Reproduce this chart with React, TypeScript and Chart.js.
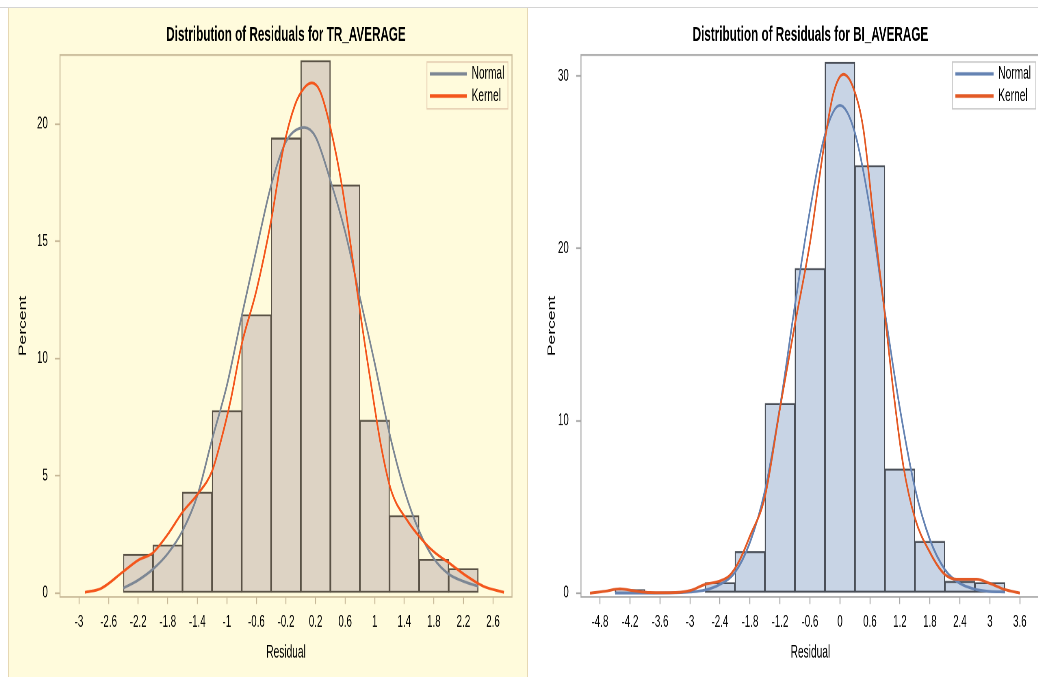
import React, { useEffect, useRef } from "react";
import { Chart, registerables } from "chart.js";

Chart.register(...registerables);

// ---------------- TR_AVERAGE ----------------
const trTitle = "Distribution of Residuals for TR_AVERAGE";
const trBinMids = [-2.2, -1.8, -1.4, -1.0, -0.6, -0.2, 0.2, 0.6, 1.0, 1.4, 1.8, 2.2];
const trPercent = [1.65, 2.05, 4.3, 7.78, 11.87, 19.4, 22.7, 17.4, 7.37, 3.3, 1.44, 1.04];
const trNormalX = [-2.4, -2.2, -2.0, -1.8, -1.6, -1.4, -1.2, -1.0, -0.8, -0.6, -0.4, -0.2, 0.05, 0.2, 0.4, 0.6, 0.8, 1.0, 1.2, 1.4, 1.6, 1.8, 2.0, 2.2, 2.4];
const trNormalY = [0.21, 0.55, 1.02, 1.68, 2.65, 4.15, 6.55, 8.85, 11.8, 14.65, 17.4, 19.25, 19.85, 19.45, 17.6, 15.4, 12.6, 9.8, 6.8, 4.4, 2.65, 1.47, 0.81, 0.5, 0.29];
const trKernelX = [-2.92, -2.7, -2.4, -2.2, -2.0, -1.8, -1.6, -1.4, -1.2, -1.08, -0.95, -0.8, -0.6, -0.4, -0.24, -0.08, 0.05, 0.15, 0.26, 0.4, 0.56, 0.69, 0.82, 0.96, 1.09, 1.22, 1.44, 1.62, 1.8, 2.02, 2.24, 2.47, 2.75];
const trKernelY = [0.03, 0.2, 0.92, 1.4, 1.72, 2.5, 3.45, 4.2, 5.2, 6.5, 8.2, 10.6, 12.9, 15.9, 18.9, 20.8, 21.55, 21.75, 21.4, 19.85, 17.3, 14.5, 11.6, 8.7, 6.2, 4.4, 3.1, 2.35, 1.76, 1.25, 0.73, 0.29, 0.03];
const trXTicks = [-3, -2.6, -2.2, -1.8, -1.4, -1, -0.6, -0.2, 0.2, 0.6, 1, 1.4, 1.8, 2.2, 2.6];
const trYTicks = [0, 5, 10, 15, 20];

// ---------------- BI_AVERAGE ----------------
const biTitle = "Distribution of Residuals for BI_AVERAGE";
const biBinMids = [-4.2, -3.6, -3.0, -2.4, -1.8, -1.2, -0.6, 0, 0.6, 1.2, 1.8, 2.4, 3.0];
const biPercent = [0.2, 0, 0, 0.6, 2.4, 11.0, 18.83, 30.8, 24.8, 7.2, 3.0, 0.68, 0.6];
const biNormalX = [-4.5, -3.9, -3.3, -3.0, -2.7, -2.4, -2.1, -1.8, -1.5, -1.2, -0.9, -0.6, -0.3, 0, 0.3, 0.6, 0.9, 1.2, 1.5, 1.8, 2.1, 2.4, 2.7, 3.0, 3.3];
const biNormalY = [0.0, 0.0, 0.02, 0.06, 0.17, 0.5, 1.2, 2.94, 5.94, 10.8, 16.7, 22.2, 26.6, 28.3, 26.7, 22.3, 16.3, 10.7, 6.1, 3.1, 1.36, 0.56, 0.22, 0.09, 0.06];
const biKernelX = [-5.0, -4.7, -4.4, -4.1, -3.8, -3.4, -3.0, -2.7, -2.4, -2.2, -2.0, -1.8, -1.5, -1.2, -0.9, -0.6, -0.45, -0.3, -0.13, 0.07, 0.27, 0.47, 0.7, 0.87, 1.07, 1.27, 1.5, 1.8, 2.07, 2.33, 2.73, 3.0, 3.3, 3.6];
const biKernelY = [0.0, 0.1, 0.24, 0.12, 0.03, 0.02, 0.14, 0.5, 0.7, 1.04, 1.94, 3.3, 5.6, 10.7, 15.6, 20.3, 23.3, 26.3, 29.0, 30.1, 29.3, 26.9, 21.0, 16.9, 11.7, 7.35, 4.35, 2.36, 1.16, 0.8, 0.8, 0.56, 0.2, 0.0];
const biXTicks = [-4.8, -4.2, -3.6, -3, -2.4, -1.8, -1.2, -0.6, 0, 0.6, 1.2, 1.8, 2.4, 3, 3.6];
const biYTicks = [0, 10, 20, 30];

const FONT = '"Liberation Sans", Arial, Helvetica, sans-serif';

type Spec = {
  title: string;
  bins: number[];
  pct: number[];
  nx: number[];
  ny: number[];
  kx: number[];
  ky: number[];
  xTicks: number[];
  yTicks: number[];
  xMin: number;
  xMax: number;
  yMin: number;
  yMax: number;
  width: number;
  height: number;
  yAxisW: number;
  xAxisH: number;
  padRight: number;
  percentPad: number;
  bg: string;
  barFill: string;
  barEdge: string;
  normal: string;
  kernel: string;
  frame: string;
  legendBorder: string;
  legendW: number;
  legendLineW: number;
};

const pts = (xs: number[], ys: number[]) => xs.map((x, i) => ({ x, y: ys[i] }));

function makeChart(canvas: HTMLCanvasElement, s: Spec) {
  const framePlugin = {
    id: "frame",
    afterDatasetsDraw(chart: any) {
      const { ctx, chartArea } = chart;
      ctx.save();
      ctx.strokeStyle = s.frame;
      ctx.lineWidth = 1.2;
      ctx.strokeRect(chartArea.left, chartArea.top, chartArea.right - chartArea.left, chartArea.bottom - chartArea.top);
      ctx.restore();
    },
  };
  const legendPlugin = {
    id: "boxLegend",
    afterDatasetsDraw(chart: any) {
      const { ctx, chartArea } = chart;
      const w = s.legendW;
      const h = 33.5;
      const x = chartArea.right - 5 - w;
      const y = chartArea.top + 5;
      ctx.save();
      ctx.fillStyle = s.bg;
      ctx.fillRect(x, y, w, h);
      ctx.strokeStyle = s.legendBorder;
      ctx.lineWidth = 1;
      ctx.strokeRect(x, y, w, h);
      const items = chart.data.datasets.filter((d: any) => d.type === "line");
      items.forEach((d: any, i: number) => {
        const cy = y + 8.5 + i * 15.8;
        ctx.strokeStyle = d.borderColor;
        ctx.lineWidth = 2.4;
        ctx.beginPath();
        ctx.moveTo(x + 3.7, cy);
        ctx.lineTo(x + 3.7 + s.legendLineW, cy);
        ctx.stroke();
        ctx.fillStyle = "#000";
        ctx.font = `12.5px ${FONT}`;
        ctx.textBaseline = "middle";
        ctx.textAlign = "left";
        ctx.fillText(d.label, x + 9.5 + s.legendLineW, cy);
      });
      ctx.restore();
    },
  };

  const tickFont = { family: FONT, size: 12 };
  const labelFont = { family: FONT, size: 12.5 };

  return new Chart(canvas, {
    type: "bar",
    data: {
      datasets: [
        {
          type: "line",
          label: "Normal",
          data: pts(s.nx, s.ny),
          borderColor: s.normal,
          borderWidth: 2,
          pointRadius: 0,
          cubicInterpolationMode: "monotone",
          fill: false,
          order: 2,
        } as any,
        {
          type: "line",
          label: "Kernel",
          data: pts(s.kx, s.ky),
          borderColor: s.kernel,
          borderWidth: 2,
          pointRadius: 0,
          cubicInterpolationMode: "monotone",
          fill: false,
          order: 1,
        } as any,
        {
          type: "bar",
          label: "Percent",
          data: pts(s.bins, s.pct),
          backgroundColor: s.barFill,
          borderColor: s.barEdge,
          borderWidth: 1.4,
          borderSkipped: false,
          barPercentage: 1,
          categoryPercentage: 1,
          order: 3,
        } as any,
      ],
    },
    options: {
      responsive: false,
      animation: false,
      devicePixelRatio: 2,
      layout: { padding: { left: 0, top: 0, right: s.padRight, bottom: 0 } },
      plugins: {
        legend: { display: false },
        tooltip: { enabled: false },
        title: {
          display: true,
          text: s.title,
          fullSize: false,
          color: "#000",
          font: { family: FONT, size: 14.4, weight: "bold" },
          padding: { top: 10.7, bottom: 5.6 },
        },
      },
      scales: {
        x: {
          type: "linear",
          min: s.xMin,
          max: s.xMax,
          offset: false,
          afterBuildTicks: (sc: any) => {
            sc.ticks = s.xTicks.map((v) => ({ value: v }));
          },
          afterFit: (sc: any) => {
            sc.height = s.xAxisH;
          },
          ticks: {
            autoSkip: false,
            maxRotation: 0,
            color: "#000",
            font: tickFont,
            padding: 6,
            callback: (v: any) => String(v),
          },
          grid: {
            display: true,
            offset: false,
            drawOnChartArea: false,
            drawTicks: true,
            tickLength: 5,
            tickColor: s.frame,
            tickWidth: 1.2,
          },
          border: { display: false },
          title: {
            display: true,
            text: "Residual",
            color: "#000",
            font: labelFont,
            padding: { top: 0, bottom: 11.8 },
          },
        },
        y: {
          type: "linear",
          min: s.yMin,
          max: s.yMax,
          afterBuildTicks: (sc: any) => {
            sc.ticks = s.yTicks.map((v) => ({ value: v }));
          },
          afterFit: (sc: any) => {
            sc.width = s.yAxisW;
          },
          ticks: {
            color: "#000",
            font: tickFont,
            padding: 9,
            callback: (v: any) => String(v),
          },
          grid: {
            display: true,
            drawOnChartArea: false,
            drawTicks: true,
            tickLength: 6,
            tickColor: s.frame,
            tickWidth: 1.2,
          },
          border: { display: false },
          title: {
            display: true,
            text: "Percent",
            color: "#000",
            font: labelFont,
            padding: { top: s.percentPad, bottom: 0 },
          },
        },
      },
    },
    plugins: [framePlugin, legendPlugin],
  } as any);
}

const SX = 0.8125;
const SY = 1.4;

const trSpec: Spec = {
  title: trTitle,
  bins: trBinMids,
  pct: trPercent,
  nx: trNormalX,
  ny: trNormalY,
  kx: trKernelX,
  ky: trKernelY,
  xTicks: trXTicks,
  yTicks: trYTicks,
  xMin: -3.257,
  xMax: 2.857,
  yMin: -0.167,
  yMax: 22.94,
  width: 640,
  height: 480,
  yAxisW: 64,
  xAxisH: 59.3,
  padRight: 19.7,
  percentPad: 11,
  bg: "#FFFBDC",
  barFill: "#DDD3C4",
  barEdge: "#5A5246",
  normal: "#7D8794",
  kernel: "#F4561C",
  frame: "#C7B897",
  legendBorder: "#E5CDB0",
  legendW: 99.7,
  legendLineW: 45.5,
};

const biSpec: Spec = {
  title: biTitle,
  bins: biBinMids,
  pct: biPercent,
  nx: biNormalX,
  ny: biNormalY,
  kx: biKernelX,
  ky: biKernelY,
  xTicks: biXTicks,
  yTicks: biYTicks,
  xMin: -5.18,
  xMax: 4.0,
  yMin: -0.23,
  yMax: 31.22,
  width: 650,
  height: 480,
  yAxisW: 65.2,
  xAxisH: 59.3,
  padRight: 20,
  percentPad: 22,
  bg: "#FFFFFF",
  barFill: "#C8D4E5",
  barEdge: "#4A4F58",
  normal: "#6583B3",
  kernel: "#E35A26",
  frame: "#A6A6A6",
  legendBorder: "#C8C8C8",
  legendW: 102.7,
  legendLineW: 47,
};

function Panel({ spec, left }: { spec: Spec; left: number }) {
  const ref = useRef<HTMLCanvasElement | null>(null);
  useEffect(() => {
    if (!ref.current) return;
    const c = makeChart(ref.current, spec);
    return () => c.destroy();
  }, [spec]);
  return (
    <div
      style={{
        position: "absolute",
        left,
        top: 8,
        width: spec.width,
        height: spec.height,
        transform: `scale(${SX}, ${SY})`,
        transformOrigin: "0 0",
      }}
    >
      <canvas ref={ref} width={spec.width} height={spec.height} style={{ display: "block" }} />
    </div>
  );
}

export default function App() {
  return (
    <div
      style={{
        position: "absolute",
        left: 0,
        top: 0,
        width: 1038,
        height: 677,
        overflow: "hidden",
        background: "#FFFFFF",
      }}
    >
      <div style={{ position: "absolute", left: 0, top: 7, width: 1038, height: 1, background: "#D4D4D4" }} />
      <div
        style={{
          position: "absolute",
          left: 8,
          top: 8,
          width: 518,
          height: 669,
          background: "#FFFBDC",
          borderLeft: "1px solid #E6D8B4",
          borderRight: "1px solid #E6D8B4",
        }}
      />
      <Panel spec={trSpec} left={8} />
      <Panel spec={biSpec} left={528} />
    </div>
  );
}
